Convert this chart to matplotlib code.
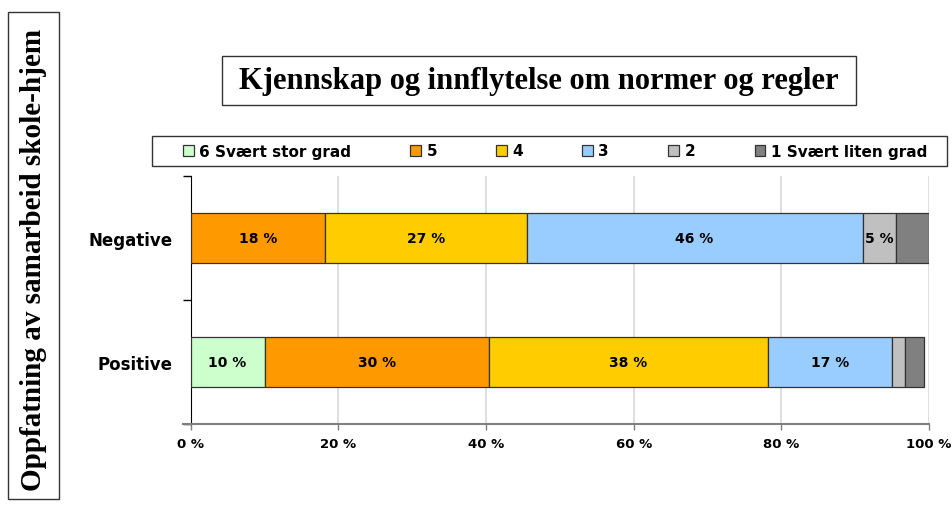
import matplotlib.pyplot as plt
from matplotlib.patches import Rectangle

groups = ['Positive', 'Negative']
levels = ['6 Svært stor grad', '5', '4', '3', '2', '1 Svært liten grad']
colors = ['#CCFFCC', '#FF9900', '#FFCC00', '#99CCFF', '#C0C0C0', '#808080']

# share per level, one list per group (Positive, Negative)
positive = [10.0, 30.4, 37.8, 16.8, 1.7, 2.6]
negative = [0.0, 18.2, 27.3, 45.5, 4.5, 4.5]
# labels shown on the bars ('' = no label)
positive_lbl = ['10 %', '30 %', '38 %', '17 %', '', '']
negative_lbl = ['', '18 %', '27 %', '46 %', '5 %', '']

xticks = [0, 20, 40, 60, 80, 100]

fig = plt.figure(figsize=(9.52, 5.06), dpi=100)
ax = fig.add_axes([0.2003, 0.160, 0.7755, 0.490])

data = [positive, negative]
lbls = [positive_lbl, negative_lbl]
for i in range(len(levels)):
    vals = [d[i] for d in data]
    lefts = [sum(d[:i]) for d in data]
    bars = ax.barh(range(len(groups)), vals, left=lefts, height=0.4,
                   color=colors[i], edgecolor='#333333', linewidth=0.9,
                   label=levels[i], zorder=3)
    ax.bar_label(bars, labels=[l[i] for l in lbls], label_type='center',
                 fontsize=10, fontweight='bold', color='black')

ax.set_xlim(0, 100)
ax.set_ylim(-0.5, 1.5)
ax.set_xticks(xticks)
ax.set_xticklabels([f'{t} %' for t in xticks], fontsize=9.5, fontweight='bold')
ax.set_yticks(range(len(groups)))
ax.set_yticklabels(groups, fontsize=12, fontweight='bold')
ax.set_yticks([-0.5, 0.5, 1.5], minor=True)
ax.tick_params(axis='y', which='major', length=0, pad=13)
ax.tick_params(axis='y', which='minor', length=6, width=1, color='black', direction='out')
ax.tick_params(axis='x', length=4, width=1, color='#808080', pad=5)
ax.grid(axis='x', color='#D9D9D9', linewidth=1.2, zorder=0)
for s in ['top', 'right']:
    ax.spines[s].set_visible(False)
ax.spines['left'].set_color('black')
ax.spines['bottom'].set_color('#808080')
ax.spines['bottom'].set_linewidth(1.5)
ax.spines['bottom'].set_bounds(-1.0, 100)

# legend across the top, in its own box
handles, labels = ax.get_legend_handles_labels()
fig.legend(handles, labels, ncol=6, mode='expand', loc='center',
           bbox_to_anchor=(180 / 952, 1 - 167 / 506, 750 / 952, 30 / 506),
           prop={'weight': 'bold', 'size': 11},
           frameon=False, handlelength=0.7, handleheight=0.7, handletextpad=0.35,
           borderaxespad=0, borderpad=0.2)
fig.patches.append(Rectangle((152 / 952, 1 - 167 / 506), 795 / 952, 30 / 506,
                             transform=fig.transFigure, fill=False,
                             edgecolor='#333333', linewidth=1))

# title in a box
fig.text(539 / 952, 1 - 82 / 506, 'Kjennskap og innflytelse om normer og regler',
         ha='center', va='center', fontsize=22, fontweight='bold',
         family='Liberation Serif')
fig.patches.append(Rectangle((222 / 952, 1 - 106 / 506), 634 / 952, 49 / 506,
                             transform=fig.transFigure, fill=False,
                             edgecolor='#333333', linewidth=1))

# left vertical box
fig.text(34 / 952, 1 - 260 / 506, 'Oppfatning av samarbeid skole-hjem',
         ha='center', va='center', rotation=90, fontsize=21, fontweight='bold',
         family='Liberation Serif')
fig.patches.append(Rectangle((8 / 952, 1 - 500 / 506), 51 / 952, 487 / 506,
                             transform=fig.transFigure, fill=False,
                             edgecolor='#333333', linewidth=1))

fig.savefig('out.png', dpi=100)
